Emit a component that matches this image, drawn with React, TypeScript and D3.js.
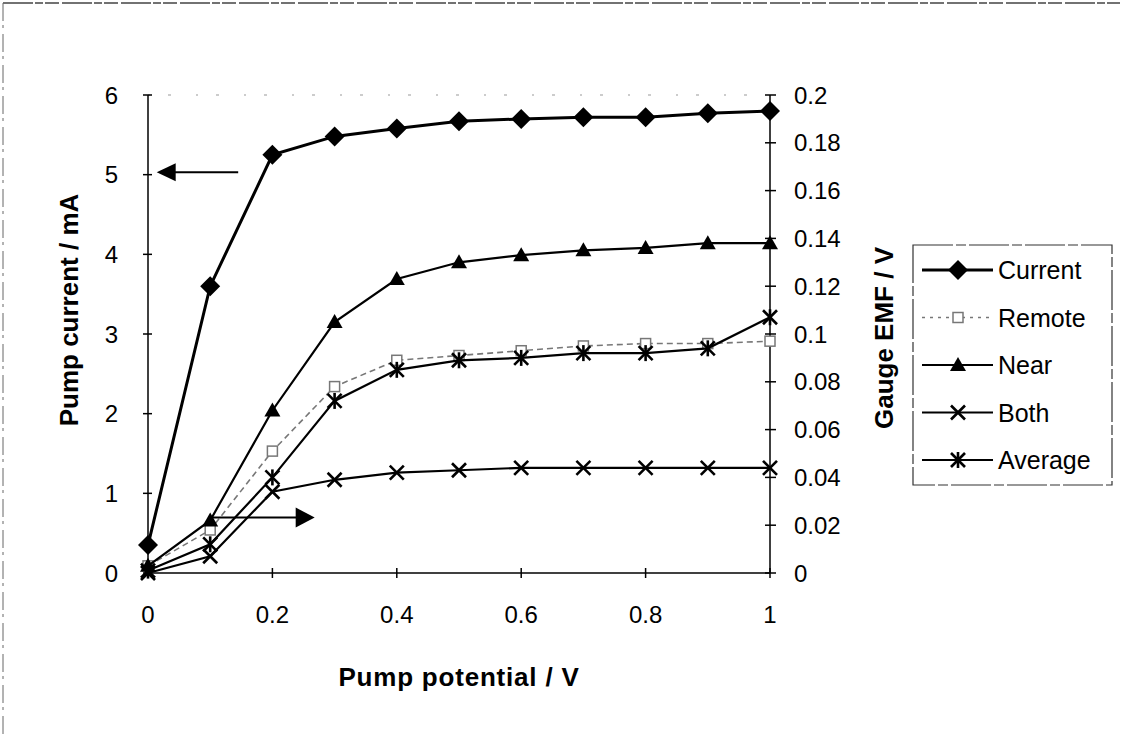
import React from 'react';
import * as d3 from 'd3';

// pump potential (V)
const potentials = [0, 0.1, 0.2, 0.3, 0.4, 0.5, 0.6, 0.7, 0.8, 0.9, 1.0];

// left axis (mA)
const current = [0.35, 3.6, 5.25, 5.48, 5.58, 5.67, 5.7, 5.72, 5.72, 5.77, 5.8];
// right axis (V)
const remote = [0.003, 0.018, 0.051, 0.078, 0.089, 0.091, 0.093, 0.095, 0.096, 0.096, 0.097];
const near = [0.003, 0.022, 0.068, 0.105, 0.123, 0.13, 0.133, 0.135, 0.136, 0.138, 0.138];
const both = [0, 0.007, 0.034, 0.039, 0.042, 0.043, 0.044, 0.044, 0.044, 0.044, 0.044];
const average = [0.001, 0.012, 0.04, 0.072, 0.085, 0.089, 0.09, 0.092, 0.092, 0.094, 0.107];

const xTicks = [0, 0.2, 0.4, 0.6, 0.8, 1];
const xTickLabels = ['0', '0.2', '0.4', '0.6', '0.8', '1'];
const leftTicks = [0, 1, 2, 3, 4, 5, 6];
const leftTickLabels = ['0', '1', '2', '3', '4', '5', '6'];
const rightTicks = [0, 0.02, 0.04, 0.06, 0.08, 0.1, 0.12, 0.14, 0.16, 0.18, 0.2];
const rightTickLabels = ['0', '0.02', '0.04', '0.06', '0.08', '0.1', '0.12', '0.14', '0.16', '0.18', '0.2'];

const seriesNames = ['Current', 'Remote', 'Near', 'Both', 'Average'];

const FONT = '"Liberation Sans", Arial, sans-serif';

type Shape = 'diamond' | 'square' | 'triangle' | 'x' | 'star';

const Marker = ({ shape, x, y }: { shape: Shape; x: number; y: number }) => {
  if (shape === 'diamond') {
    const r = 10;
    return <path d={`M${x},${y - r}L${x + r},${y}L${x},${y + r}L${x - r},${y}Z`} fill="#000" />;
  }
  if (shape === 'square') {
    const r = 5;
    return <rect x={x - r} y={y - r} width={2 * r} height={2 * r} fill="#fff" stroke="#777" strokeWidth={1.5} />;
  }
  if (shape === 'triangle') {
    const r = 8;
    return <path d={`M${x},${y - r}L${x + r},${y + r * 0.75}L${x - r},${y + r * 0.75}Z`} fill="#000" />;
  }
  const r = 7;
  return (
    <g stroke="#000" strokeWidth={2.6}>
      <line x1={x - r} y1={y - r} x2={x + r} y2={y + r} />
      <line x1={x - r} y1={y + r} x2={x + r} y2={y - r} />
      {shape === 'star' && <line x1={x} y1={y - r - 1} x2={x} y2={y + r + 1} />}
    </g>
  );
};

export default function App() {
  const x = d3.scaleLinear().domain([0, 1]).range([148, 770]);
  const yL = d3.scaleLinear().domain([0, 6]).range([573, 95]);
  const yR = d3.scaleLinear().domain([0, 0.2]).range([573, 95]);

  const series = [
    { name: seriesNames[0], values: current, y: yL, shape: 'diamond' as Shape, stroke: '#000', width: 3, dash: '' },
    { name: seriesNames[1], values: remote, y: yR, shape: 'square' as Shape, stroke: '#777', width: 1.6, dash: '6 4' },
    { name: seriesNames[2], values: near, y: yR, shape: 'triangle' as Shape, stroke: '#000', width: 2.2, dash: '' },
    { name: seriesNames[3], values: both, y: yR, shape: 'x' as Shape, stroke: '#000', width: 2.2, dash: '' },
    { name: seriesNames[4], values: average, y: yR, shape: 'star' as Shape, stroke: '#000', width: 2.2, dash: '' },
  ];

  const lineFor = (s: typeof series[number]) =>
    d3.line<number>()
      .x((_, i) => x(potentials[i]))
      .y((v) => s.y(v))(s.values) || '';

  // annotation arrows, in data units
  const leftArrow = { from: 0.145, to: 0.014, y: yL(5.03) };
  const rightArrow = { from: 0.097, to: 0.268, y: yR(0.0232) };

  const legendX = 913;
  const legendTop = 245;
  const legendRow = d3.scaleLinear().domain([0, 4]).range([270, 460]);

  return (
    <svg width={1123} height={738} style={{ position: 'absolute', left: 0, top: 0, background: '#fff' }} fontFamily={FONT}>
      {/* page frame from the scan */}
      <line x1={3} y1={3} x2={1120} y2={3} stroke="#444" strokeWidth={1.5} strokeDasharray="30 2 8 2 14 3" />
      <line x1={3} y1={3} x2={3} y2={738} stroke="#666" strokeWidth={1} strokeDasharray="18 4 3 6" />

      {/* faint plot area top edge */}
      <line x1={x(0)} y1={yL(6)} x2={x(1)} y2={yL(6)} stroke="#999" strokeWidth={1} strokeDasharray="2 18 3 25" />

      {/* axes */}
      <g stroke="#000" strokeWidth={1.5}>
        <line x1={x(0)} y1={yL(0)} x2={x(0)} y2={yL(6)} />
        <line x1={x(1)} y1={yR(0)} x2={x(1)} y2={yR(0.2)} />
        <line x1={x(0)} y1={yL(0)} x2={x(1)} y2={yL(0)} />
        {leftTicks.map((t) => (
          <line key={'lt' + t} x1={x(0) - 5} x2={x(0) + 4} y1={yL(t)} y2={yL(t)} />
        ))}
        {rightTicks.map((t) => (
          <line key={'rt' + t} x1={x(1) - 5} x2={x(1) + 6} y1={yR(t)} y2={yR(t)} />
        ))}
        {xTicks.map((t) => (
          <line key={'xt' + t} x1={x(t)} x2={x(t)} y1={yL(0) - 5} y2={yL(0) + 5} />
        ))}
      </g>

      {/* tick labels */}
      <g fontSize={24} fill="#000">
        {leftTicks.map((t, i) => (
          <text key={'ll' + t} x={x(0) - 30} y={yL(t)} dy="0.36em" textAnchor="end">{leftTickLabels[i]}</text>
        ))}
        {rightTicks.map((t, i) => (
          <text key={'rl' + t} x={x(1) + 24} y={yR(t)} dy="0.36em" textAnchor="start">{rightTickLabels[i]}</text>
        ))}
        {xTicks.map((t, i) => (
          <text key={'xl' + t} x={x(t)} y={623} textAnchor="middle">{xTickLabels[i]}</text>
        ))}
      </g>

      {/* axis titles */}
      <g fontSize={26} fontWeight="bold" fill="#000" textAnchor="middle">
        <text transform={`translate(78,310) rotate(-90)`}>Pump current / mA</text>
        <text transform={`translate(893,338) rotate(-90)`}>Gauge EMF / V</text>
        <text x={459} y={686} letterSpacing={0.8}>Pump potential / V</text>
      </g>

      {/* series */}
      {series.map((s) => (
        <g key={s.name}>
          <path d={lineFor(s)} fill="none" stroke={s.stroke} strokeWidth={s.width} strokeDasharray={s.dash || undefined} />
          {s.values.map((v, i) => (
            <Marker key={i} shape={s.shape} x={x(potentials[i])} y={s.y(v)} />
          ))}
        </g>
      ))}

      {/* arrows */}
      <g fill="#000" stroke="#000" strokeWidth={2}>
        <line x1={x(leftArrow.from)} y1={leftArrow.y} x2={x(leftArrow.to) + 16} y2={leftArrow.y} />
        <path
          d={`M${x(leftArrow.to)},${leftArrow.y}L${x(leftArrow.to) + 19},${leftArrow.y - 9}L${x(leftArrow.to) + 19},${leftArrow.y + 9}Z`}
          stroke="none"
        />
        <line x1={x(rightArrow.from)} y1={rightArrow.y} x2={x(rightArrow.to) - 16} y2={rightArrow.y} />
        <path
          d={`M${x(rightArrow.to)},${rightArrow.y}L${x(rightArrow.to) - 19},${rightArrow.y - 10}L${x(rightArrow.to) - 19},${rightArrow.y + 10}Z`}
          stroke="none"
        />
      </g>

      {/* legend */}
      <rect x={legendX} y={legendTop} width={199} height={240} fill="#fff" stroke="#333" strokeWidth={1.2} strokeDasharray="40 3 10 3" />
      {series.map((s, i) => {
        const ly = legendRow(i);
        return (
          <g key={'lg' + s.name}>
            <line x1={922} x2={993} y1={ly} y2={ly} stroke={s.stroke} strokeWidth={s.width} strokeDasharray={s.dash ? '3 5' : undefined} />
            <Marker shape={s.shape} x={958} y={ly} />
            <text x={998} y={ly} dy="0.36em" fontSize={25} fill="#000">{s.name}</text>
          </g>
        );
      })}
    </svg>
  );
}
